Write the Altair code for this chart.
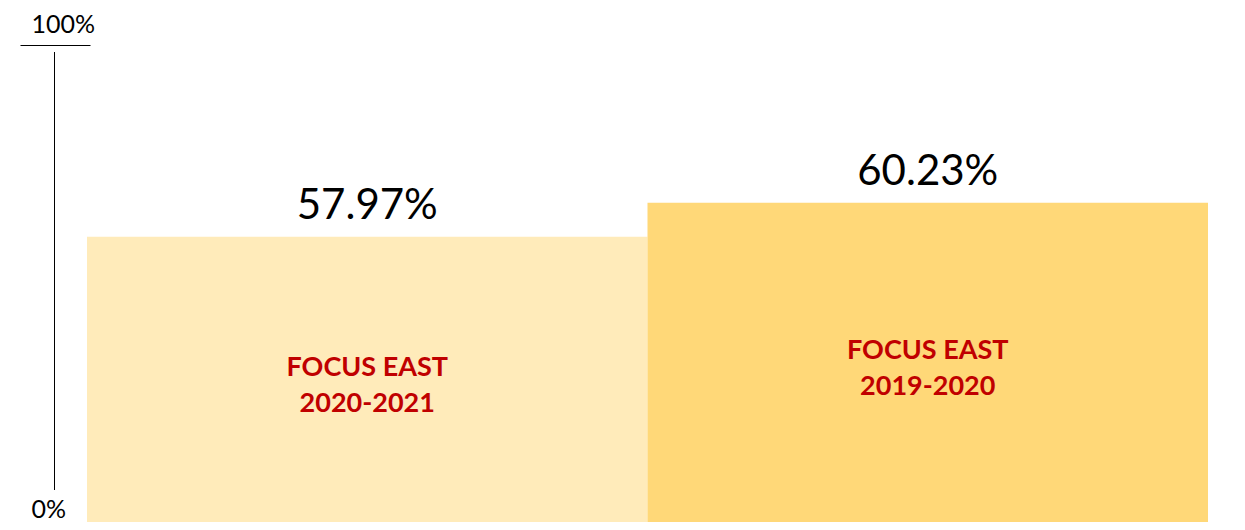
import altair as alt
import pandas as pd

# ---- data ----
programmes = ["FOCUS EAST", "FOCUS EAST"]
years = ["2020-2021", "2019-2020"]
shares = [57.97, 60.23]
bar_colors = ["#FFEBBA", "#FFD878"]
axis_ends = [0, 100]

df = pd.DataFrame({"programme": programmes, "year": years, "share": shares})
axis_df = pd.DataFrame({"lo": [axis_ends[0]], "hi": [axis_ends[1]]})

Y_LO, Y_HI = 39.0, 73.18
FONT = "Lato"

yscale = alt.Scale(domain=[Y_LO, Y_HI], zero=False, nice=False)
x = alt.X("year:N", sort=years, scale=alt.Scale(paddingInner=0, paddingOuter=0), axis=None)

base = alt.Chart(df).encode(x=x)

bars = base.mark_bar(clip=True).encode(
    y=alt.Y("share:Q", scale=yscale, axis=None),
    color=alt.Color("year:N", scale=alt.Scale(domain=years, range=bar_colors), legend=None),
)

value_text = base.transform_calculate(
    label="format(datum.share, '.2f') + '%'"
).mark_text(
    font=FONT, fontSize=42, color="black", baseline="alphabetic", dy=-18
).encode(
    y=alt.Y("share:Q", scale=yscale, axis=None),
    text="label:N",
)

cat_text = base.transform_calculate(
    mid="(datum.share + 38.5) / 2",
    cat="datum.programme + '\\n' + datum.year",
).mark_text(
    font=FONT, fontWeight="bold", fontSize=27, color="#C00000",
    lineBreak="\n", lineHeight=36, baseline="middle", dy=-15,
).encode(
    y=alt.Y("mid:Q", scale=yscale, axis=None),
    text="cat:N",
)

axis_layer = alt.Chart(axis_df).mark_rule(color="black", strokeWidth=1).encode(
    x=alt.value(-32.5),
    y=alt.Y(
        "lo:Q",
        scale=alt.Scale(domain=axis_ends, range=[482, 44], nice=False, zero=False),
        axis=alt.Axis(
            values=axis_ends,
            labelExpr="datum.value + '%'",
            orient="left",
            offset=-3,
            domain=False,
            grid=False,
            ticks=True,
            tickSize=70,
            tickColor="black",
            tickWidth=1,
            tickOffset=-7,
            tickOpacity={"condition": {"test": "datum.value == 0", "value": 0}, "value": 1},
            labelAlign="left",
            labelPadding=-11,
            labelBaseline="middle",
            labelOffset={"condition": {"test": "datum.value == 0", "value": 26}, "value": -21},
            labelFont=FONT,
            labelFontSize=25,
            labelColor="black",
            labelFlush=False,
            labelOverlap=False,
            title=None,
        ),
    ),
    y2="hi:Q",
)

chart = alt.layer(
    alt.layer(bars, value_text, cat_text), axis_layer
).resolve_scale(y="independent").properties(
    width=1121,
    height=514,
    autosize=alt.AutoSizeParams(type="none"),
    padding={"left": 79, "top": 0, "right": 29, "bottom": 0},
    background="white",
).configure_view(stroke=None)

chart.save("out.html", embed_options={"renderer": "svg", "actions": False})
